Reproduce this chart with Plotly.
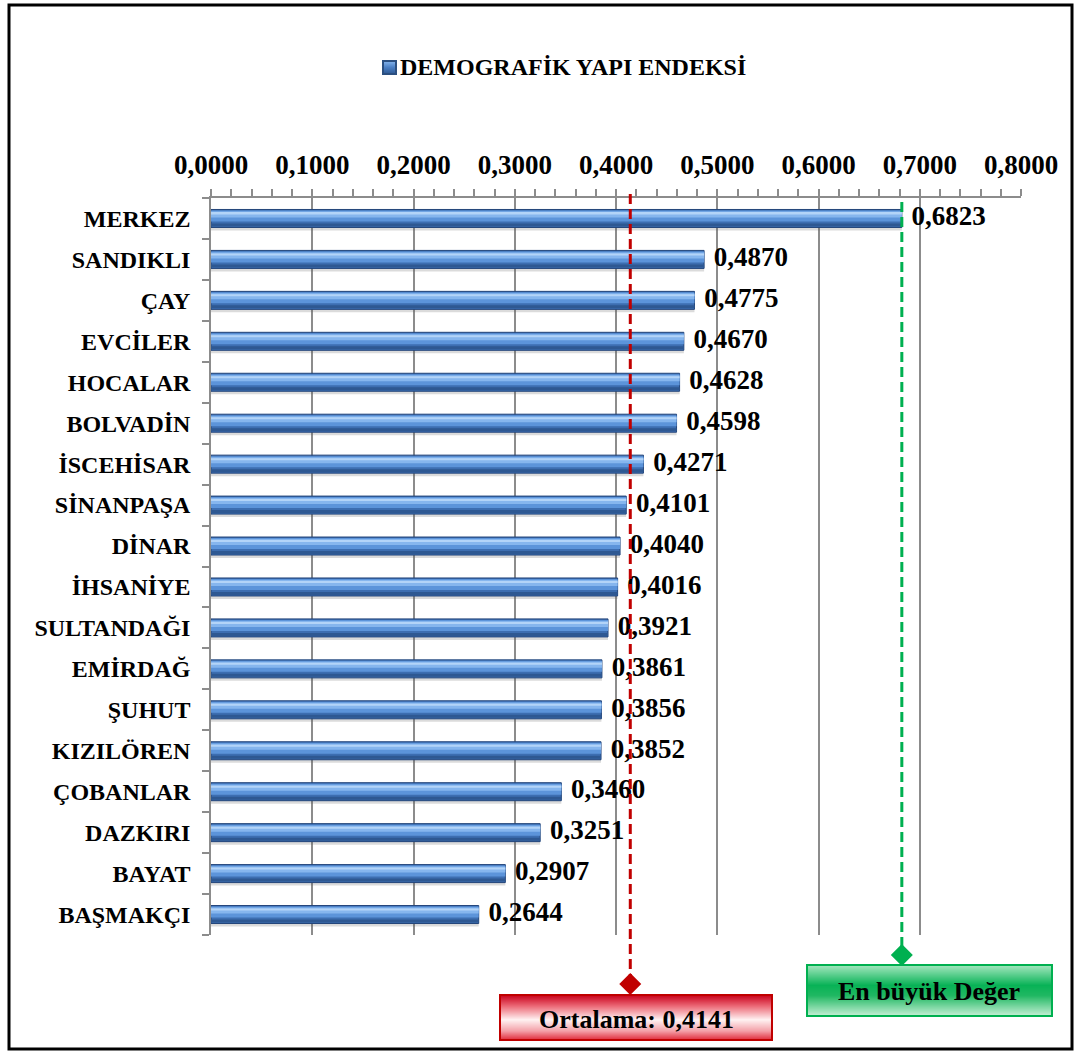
import plotly.graph_objects as go

# Demographic structure index by district
districts = ["MERKEZ", "SANDIKLI", "ÇAY", "EVCİLER", "HOCALAR", "BOLVADİN",
             "İSCEHİSAR", "SİNANPAŞA", "DİNAR", "İHSANİYE", "SULTANDAĞI",
             "EMİRDAĞ", "ŞUHUT", "KIZILÖREN", "ÇOBANLAR", "DAZKIRI", "BAYAT",
             "BAŞMAKÇI"]
index_values = [0.6823, 0.4870, 0.4775, 0.4670, 0.4628, 0.4598, 0.4271, 0.4101,
                0.4040, 0.4016, 0.3921, 0.3861, 0.3856, 0.3852, 0.3460, 0.3251,
                0.2907, 0.2644]
mean_value = 0.4141
max_value = max(index_values)
series_name = "DEMOGRAFİK YAPI ENDEKSİ"
mean_label = "Ortalama: 0,4141"
max_label = "En büyük Değer"
x_ticks = [0.0, 0.1, 0.2, 0.3, 0.4, 0.5, 0.6, 0.7, 0.8]

W, H = 1078, 1053
FONT = "Liberation Serif"
positions = list(range(len(districts)))

# plot-area box in pixels
PL, PR, PT, PB = 211, 1021, 198, 935
band = (PB - PT) / len(districts)


def px(xp):
    return xp / W


def py(yp):
    return 1 - yp / H


fig = go.Figure()

# layered horizontal bars give the rounded, shaded look
layers = [
    # (start px, end px from bar top, colour, outline)
    (3, 21, "rgba(90,90,90,0.22)", None),
    (0, 18, "#3d6eb1", "#23457a"),
    (1, 12, "#5c94da", None),
    (2, 8, "#86b6ee", None),
    (3, 5, "#b3d4f8", None),
    (14, 17, "#2e5892", None),
]
for start, end, color, outline in layers:
    fig.add_trace(go.Bar(
        x=index_values, y=positions, orientation="h",
        offset=(start - 9) / band, width=(end - start) / band,
        marker=dict(color=color,
                    line=dict(color=outline or color, width=1 if outline else 0)),
        showlegend=False, hoverinfo="skip",
    ))

# value labels
fig.add_trace(go.Scatter(
    x=index_values, y=positions, mode="markers+text",
    marker=dict(size=14, color="rgba(0,0,0,0)"),
    text=[f"{v:.4f}".replace(".", ",") for v in index_values],
    textposition="middle right",
    textfont=dict(family=FONT, size=27, color="black", weight="bold"),
    cliponaxis=False, showlegend=False, hoverinfo="skip",
))

# reference lines for the mean and the maximum, each ending in a diamond
shapes = [
    dict(type="line", xref="x", yref="paper", x0=mean_value, x1=mean_value,
         y0=py(194), y1=py(978), line=dict(color="#c00000", width=3, dash="10px,5px")),
    dict(type="line", xref="x", yref="paper", x0=max_value, x1=max_value,
         y0=py(202), y1=py(948), line=dict(color="#00b050", width=3, dash="10px,5px")),
]
diamond = "M 0 -11 L 11 0 L 0 11 L -11 0 Z"
for xv, yp, col in [(mean_value, 984, "#c00000"), (max_value, 955, "#00b050")]:
    shapes.append(dict(type="path", xref="x", yref="paper",
                       xsizemode="pixel", ysizemode="pixel",
                       xanchor=xv, yanchor=py(yp), path=diamond,
                       fillcolor=col, line=dict(width=0), layer="above"))


def hexrgb(h):
    h = h.lstrip("#")
    return tuple(int(h[i:i + 2], 16) for i in (0, 2, 4))


def gradient_box(x0, x1, y0, y1, stops, border):
    """Vertical gradient rectangle made of thin strips (pixel coordinates)."""
    n = int(y1 - y0)
    out = []
    for i in range(n):
        t = (i + 0.5) / n
        for (ta, ca), (tb, cb) in zip(stops[:-1], stops[1:]):
            if ta <= t <= tb:
                f = (t - ta) / (tb - ta)
                a, b = hexrgb(ca), hexrgb(cb)
                c = tuple(round(a[k] + (b[k] - a[k]) * f) for k in range(3))
                break
        out.append(dict(type="rect", xref="paper", yref="paper",
                        x0=px(x0), x1=px(x1), y0=py(y0 + i), y1=py(y0 + i + 1.2),
                        fillcolor="rgb(%d,%d,%d)" % c, line=dict(width=0), layer="above"))
    out.append(dict(type="rect", xref="paper", yref="paper",
                    x0=px(x0), x1=px(x1), y0=py(y0), y1=py(y1),
                    line=dict(color=border, width=2), layer="above"))
    return out


shapes += gradient_box(500, 772, 995, 1040,
                       [(0, "#c8001a"), (0.25, "#ec6a78"), (0.55, "#fff2f2"),
                        (0.8, "#f4a0a8"), (1, "#e02a3a")], "#c00000")
shapes += gradient_box(807, 1052, 965, 1016,
                       [(0, "#a6e8c0"), (0.4, "#08b256"), (0.6, "#20b862"),
                        (1, "#c6f0d6")], "#00b050")

# legend swatch
shapes += gradient_box(383, 396, 61, 74,
                       [(0, "#86b6ee"), (0.5, "#4a7fc4"), (1, "#2e5892")], "#2b4f80")

# outer frame
shapes.append(dict(type="rect", xref="paper", yref="paper",
                   x0=px(9), x1=px(1072), y0=py(1049), y1=py(5),
                   line=dict(color="black", width=3), layer="above"))

annotations = [
    dict(xref="paper", yref="paper", x=px(398), y=py(67), xanchor="left",
         yanchor="middle", text=series_name, showarrow=False,
         font=dict(family=FONT, size=24, color="black", weight="bold")),
    dict(xref="paper", yref="paper", x=px(636), y=py(1019), xanchor="center",
         yanchor="middle", text=mean_label, showarrow=False,
         font=dict(family=FONT, size=26, color="black", weight="bold")),
    dict(xref="paper", yref="paper", x=px(929), y=py(991), xanchor="center",
         yanchor="middle", text=max_label, showarrow=False,
         font=dict(family=FONT, size=26, color="black", weight="bold")),
]

grid = "#8c8c8c"
fig.update_layout(
    width=W, height=H,
    margin=dict(l=0, r=0, t=0, b=0),
    paper_bgcolor="white", plot_bgcolor="white",
    barmode="overlay", separators=",.",
    shapes=shapes, annotations=annotations,
    xaxis=dict(
        domain=[px(PL), px(PR)], range=[0, 0.8], side="top",
        tickvals=x_ticks, tickformat=".4f",
        showgrid=True, gridcolor=grid, gridwidth=1.5,
        showline=True, linecolor=grid, linewidth=1.5,
        ticks="outside", ticklen=7, tickcolor=grid, tickwidth=1.5,
        minor=dict(dtick=0.02, tick0=0, ticks="outside", ticklen=7,
                   tickcolor=grid, tickwidth=1.5, showgrid=False),
        tickfont=dict(family=FONT, size=27, color="black", weight="bold"),
        ticklabelstandoff=4, zeroline=False, automargin=False, fixedrange=True,
    ),
    yaxis=dict(
        domain=[py(PB), py(PT)], range=[len(districts) - 0.5, -0.5],
        tickvals=positions, ticktext=districts, ticks="",
        minor=dict(tick0=-0.5, dtick=1, ticks="outside", ticklen=7,
                   tickcolor=grid, tickwidth=1.5, showgrid=False),
        showgrid=False, showline=True, linecolor=grid, linewidth=1.5,
        tickfont=dict(family=FONT, size=24, color="black", weight="bold"),
        ticklabelstandoff=14, zeroline=False, automargin=False, fixedrange=True,
    ),
)

fig.write_html("out.html")
